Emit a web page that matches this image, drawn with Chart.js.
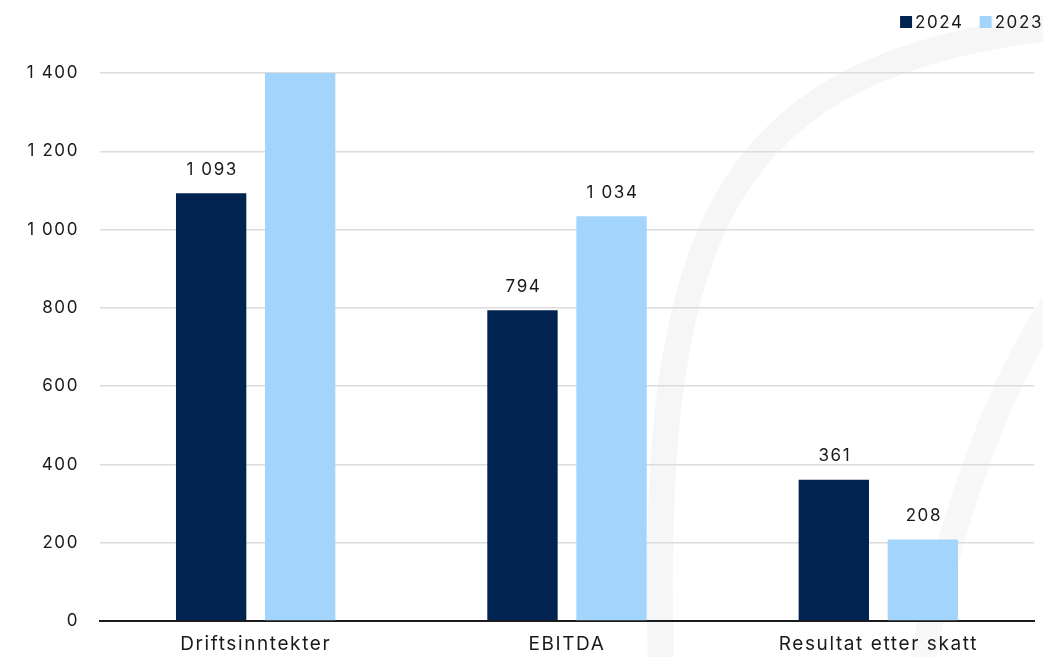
<!DOCTYPE html>
<html>
<head>
<meta charset="utf-8">
<script src="https://cdn.jsdelivr.net/npm/chart.js@4.4.1/dist/chart.umd.min.js"></script>
<style>
  html, body { margin: 0; padding: 0; background: #ffffff; }
  #wrap { width: 1043px; height: 657px; position: relative; }
</style>
</head>
<body>
<div id="wrap"><canvas id="c" width="1043" height="657"></canvas></div>
<script>
const categories = ['Driftsinntekter', 'EBITDA', 'Resultat etter skatt'];
const seriesNames = ['2024', '2023'];
const values2024 = [1093, 794, 361];
const values2023 = [1500, 1034, 208];
const yTicks = [0, 200, 400, 600, 800, 1000, 1200, 1400];
const seriesColors = ['#002350', '#a2d4fc'];

const FONT = 'Inter, "Open Sans", sans-serif';
const TEXT = '#1a1a1a';
const SPACING = '1.6px';

function fmt(v) {
  return String(v).replace(/\B(?=(\d{3})+(?!\d))/g, ' ');
}

const spacingPlugin = {
  id: 'spacing',
  beforeInit(chart) { chart.ctx.letterSpacing = SPACING; },
  beforeDraw(chart) { chart.ctx.letterSpacing = SPACING; }
};

const watermark = {
  id: 'watermark',
  beforeDraw(chart) {
    const ctx = chart.ctx;
    ctx.save();
    ctx.strokeStyle = '#f6f6f6';
    ctx.lineCap = 'butt';
    ctx.lineWidth = 26;
    ctx.beginPath();
    ctx.moveTo(662, 700);
    ctx.bezierCurveTo(645, 220, 720, 60, 1080, 24);
    ctx.stroke();
    ctx.strokeStyle = '#f8f8f8';
    ctx.lineWidth = 26;
    ctx.beginPath();
    ctx.moveTo(1070, 280);
    ctx.bezierCurveTo(1010, 360, 950, 500, 915, 700);
    ctx.stroke();
    ctx.restore();
  }
};

const valueLabels = {
  id: 'valueLabels',
  afterDatasetsDraw(chart) {
    const ctx = chart.ctx;
    const yMax = chart.scales.y.max;
    ctx.save();
    ctx.font = '17px ' + FONT;
    ctx.fillStyle = TEXT;
    ctx.textAlign = 'center';
    ctx.textBaseline = 'bottom';
    chart.data.datasets.forEach((ds, di) => {
      const meta = chart.getDatasetMeta(di);
      meta.data.forEach((el, i) => {
        const v = ds.data[i];
        if (v > yMax) return;
        ctx.fillText(fmt(v), el.x + 1, el.y - 15);
      });
    });
    ctx.restore();
  }
};

const customLegend = {
  id: 'customLegend',
  afterDraw(chart) {
    const ctx = chart.ctx;
    ctx.save();
    ctx.font = '17px ' + FONT;
    ctx.textBaseline = 'middle';
    ctx.textAlign = 'left';
    const y = 22;
    const items = seriesNames.map((n, i) => ({ n, c: seriesColors[i] }));
    const widths = items.map(it => ctx.measureText(it.n).width);
    const box = 12, gapBoxText = 3, gapItems = 16;
    let total = 0;
    items.forEach((it, i) => { total += box + gapBoxText + widths[i]; if (i > 0) total += gapItems; });
    let cx = 1043 - total;
    items.forEach((it, i) => {
      ctx.fillStyle = it.c;
      ctx.fillRect(cx, y - box / 2, box, box);
      cx += box + gapBoxText;
      ctx.fillStyle = TEXT;
      ctx.fillText(it.n, cx, y + 1);
      cx += widths[i] + gapItems;
    });
    ctx.restore();
  }
};

new Chart(document.getElementById('c'), {
  type: 'bar',
  data: {
    labels: categories,
    datasets: [
      { label: seriesNames[0], data: values2024, backgroundColor: seriesColors[0], categoryPercentage: 0.572, barPercentage: 0.79, clip: 0 },
      { label: seriesNames[1], data: values2023, backgroundColor: seriesColors[1], categoryPercentage: 0.572, barPercentage: 0.79, clip: 0 }
    ]
  },
  options: {
    responsive: false,
    animation: false,
    devicePixelRatio: 1,
    layout: { padding: { top: 73, right: 9, bottom: 0, left: 0 } },
    plugins: {
      legend: { display: false },
      tooltip: { enabled: false }
    },
    scales: {
      x: {
        grid: { display: false, drawTicks: false },
        border: { display: true, color: '#1a1a1a', width: 2 },
        ticks: { color: TEXT, font: { size: 19, family: FONT }, padding: 12, maxRotation: 0 },
        afterFit(scale) { scale.height = 36; }
      },
      y: {
        min: 0,
        max: 1400,
        afterBuildTicks(scale) { scale.ticks = yTicks.map(v => ({ value: v })); },
        grid: { color: '#dcdcdc', lineWidth: 1.5, drawTicks: false },
        border: { display: false },
        ticks: { color: TEXT, font: { size: 17, family: FONT }, padding: 21, callback: v => fmt(v) },
        afterFit(scale) { scale.width = 100; }
      }
    }
  },
  plugins: [spacingPlugin, watermark, valueLabels, customLegend]
});
</script>
</body>
</html>
